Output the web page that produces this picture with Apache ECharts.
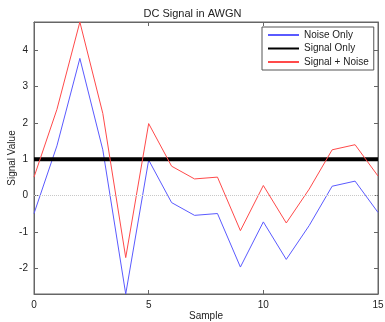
<!DOCTYPE html>
<html><head><meta charset="utf-8">
<script src="https://cdn.jsdelivr.net/npm/echarts@6/dist/echarts.min.js"></script>
<style>html,body{margin:0;padding:0;background:#fff}#c{width:385px;height:322px}</style>
</head><body><div id="c"></div>
<script>
var samples = [0,1,2,3,4,5,6,7,8,9,10,11,12,13,14,15];
var noiseOnly = [-0.49,1.37,3.77,1.26,-2.7,0.98,-0.19,-0.54,-0.49,-1.96,-0.72,-1.75,-0.82,0.26,0.4,-0.46];
var signalOnly = [1,1,1,1,1,1,1,1,1,1,1,1,1,1,1,1];
var signalPlusNoise = [0.51,2.37,4.77,2.26,-1.7,1.98,0.81,0.46,0.51,-0.96,0.28,-0.75,0.18,1.26,1.4,0.54];
var yTicks = [-2,-1,0,1,2,3,4];
var xTicks = [0,5,10,15];

function pairs(v){ return samples.map(function(x,i){return [x,v[i]];}); }
var font = 'Liberation Sans, Arial, sans-serif';
var chart = echarts.init(document.getElementById('c'), null, {renderer:'canvas'});
var axCol = '#666';
chart.setOption({
  animation:false,
  title:{text:'DC Signal in AWGN', left:'center', top:3, textStyle:{fontFamily:font,fontSize:11,fontWeight:'normal',color:'#222'}},
  grid:{left:34,right:7,top:22,bottom:28,outerBoundsMode:'none',containLabel:false,show:true,borderColor:axCol,borderWidth:1,backgroundColor:'#fff'},
  legend:{orient:'vertical',left:262,top:27,padding:[3,5,3,5],itemWidth:31,itemHeight:10,itemGap:3.5,
    borderColor:'#555',borderWidth:1,backgroundColor:'#fff',
    itemStyle:{opacity:0},
    textStyle:{fontFamily:font,fontSize:10,color:'#222'},
    data:['Noise Only','Signal Only','Signal + Noise']},
  xAxis:[{type:'value',min:0,max:15,name:'Sample',nameLocation:'middle',nameGap:17,nameMoveOverlap:false,
    nameTextStyle:{fontFamily:font,fontSize:10,color:'#222'},
    axisLine:{show:true,onZero:false,lineStyle:{color:axCol}},
    axisTick:{show:true,inside:true,length:4,customValues:xTicks,lineStyle:{color:axCol}},
    axisLabel:{customValues:xTicks,fontFamily:font,fontSize:10,color:'#222',margin:6},
    splitLine:{show:false}},
   {type:'value',min:0,max:15,position:'top',
    axisLine:{show:true,onZero:false,lineStyle:{color:axCol}},
    axisTick:{show:true,inside:true,length:4,customValues:xTicks,lineStyle:{color:axCol}},
    axisLabel:{show:false},splitLine:{show:false}}],
  yAxis:[{type:'value',min:-2.7,max:4.77,name:'Signal Value',nameLocation:'middle',nameGap:17,nameRotate:90,nameMoveOverlap:false,
    nameTextStyle:{fontFamily:font,fontSize:10,color:'#222'},
    axisLine:{show:true,onZero:false,lineStyle:{color:axCol}},
    axisTick:{show:true,inside:true,length:4,customValues:yTicks,lineStyle:{color:axCol}},
    axisLabel:{customValues:yTicks,fontFamily:font,fontSize:10,color:'#222',margin:6},
    splitLine:{show:false}},
   {type:'value',min:-2.7,max:4.77,position:'right',
    axisLine:{show:true,onZero:false,lineStyle:{color:axCol}},
    axisTick:{show:true,inside:true,length:4,customValues:yTicks,lineStyle:{color:axCol}},
    axisLabel:{show:false},splitLine:{show:false}}],
  series:[
    {name:'Noise Only',type:'line',data:pairs(noiseOnly),symbol:'none',lineStyle:{color:'#5a5aff',width:1},itemStyle:{color:'#5a5aff'},
     markLine:{silent:true,symbol:'none',label:{show:false},lineStyle:{color:'#c8c8c8',type:'dotted',width:1},data:[{yAxis:0}]}},
    {name:'Signal Only',type:'line',data:pairs(signalOnly),symbol:'none',lineStyle:{color:'#000',width:4},itemStyle:{color:'#000'},z:3},
    {name:'Signal + Noise',type:'line',data:pairs(signalPlusNoise),symbol:'none',lineStyle:{color:'#ff4a4a',width:1},itemStyle:{color:'#ff4a4a'}}
  ]
});
</script></body></html>
